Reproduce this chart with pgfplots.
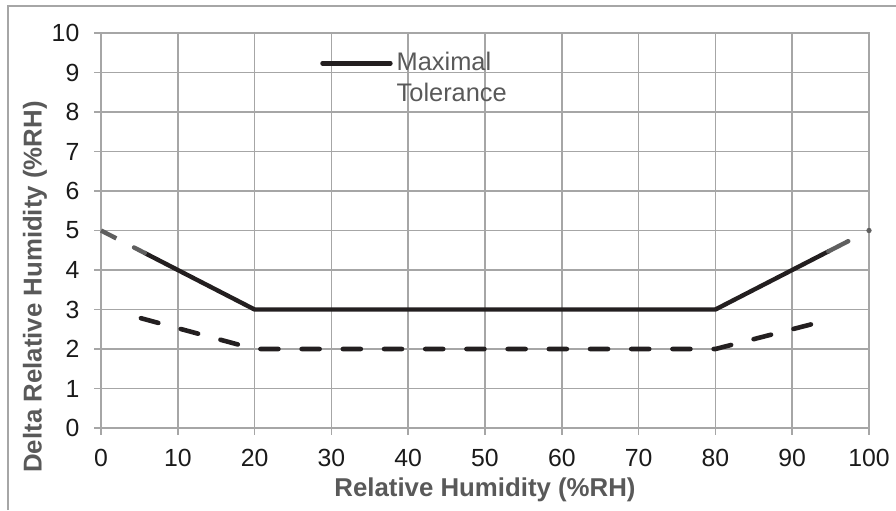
\documentclass[border=0pt]{standalone}
\usepackage{fontspec}
\setmainfont{Liberation Sans}
\usepackage{pgfplots}
\pgfplotsset{compat=1.18}
\definecolor{gridgrey}{HTML}{A6A6A6}
\definecolor{labgrey}{HTML}{595959}
\definecolor{fadegrey}{HTML}{5F5F5F}
\definecolor{linek}{HTML}{231F20}
\definecolor{tickk}{HTML}{1A1A1A}
\begin{document}
\begin{tikzpicture}[x=1pt,y=1pt]
\useasboundingbox (0,0) rectangle (448,255);
% outer chart frame (left and top only)
\draw[gridgrey, line width=0.8pt] (4,0) -- (4,252) -- (448,252);
\begin{axis}[
  at={(50.5pt,41pt)}, anchor=south west,
  scale only axis, width=384pt, height=197.5pt,
  xmin=0, xmax=100, ymin=0, ymax=10,
  xtick={0,10,...,100}, ytick={0,1,...,10},
  grid=major,
  major grid style={gridgrey, line width=0.75pt},
  axis line style={gridgrey, line width=0.75pt},
  tick style={gridgrey, line width=0.75pt},
  tick align=outside, major tick length=3.3pt,
  xtick pos=bottom, ytick pos=left,
  /pgf/number format/assume math mode=true,
  ticklabel style={font=\fontsize{12.4}{14}\selectfont, text=tickk},
  yticklabel style={xshift=-4pt},
  xticklabel style={yshift=-4pt},
  xlabel={Relative Humidity (\%RH)},
  ylabel={Delta Relative Humidity (\%RH)},
  every axis x label/.style={at={(axis description cs:0.5,-0.157)}, anchor=center,
    font=\bfseries\fontsize{12.9}{15}\selectfont, text=labgrey},
  every axis y label/.style={at={(axis description cs:-0.0859,0.357)}, anchor=center, rotate=90,
    font=\bfseries\fontsize{12.9}{15}\selectfont, text=labgrey},
  clip=false,
  legend style={at={(axis cs:28.5,9.52)}, anchor=north west, draw=none, fill=none,
    inner sep=0pt, column sep=2pt, legend cell align=left,
    nodes={inner sep=0pt, align=left, text=labgrey, font=\fontsize{12.7}{15.5}\selectfont}},
  legend image code/.code={\draw[linek, line width=2.2pt, line cap=round] (0pt,7.6pt) -- (34pt,7.6pt);},
]
% maximal tolerance (solid)
\addplot[linek, line width=2.2pt, line join=round] coordinates {
  (5.6,4.44) (20,3) (80,3) (94.8,4.48)};
\addlegendentry{Maximal\\Tolerance}
\addplot[forget plot, fadegrey, line width=2.2pt] coordinates {(0,5) (2,4.8)};
\addplot[forget plot, fadegrey, line width=2.2pt, line cap=round] coordinates {(4.3,4.57) (5.7,4.43)};
\addplot[forget plot, fadegrey, line width=2.2pt, line cap=round] coordinates {(94.7,4.47) (97.3,4.73)};
\addplot[forget plot, only marks, mark=*, mark size=1.1pt, fadegrey] coordinates {(100,5)};
% typical tolerance (dashed)
\addplot[forget plot, linek, line width=2.3pt, line cap=round,
  dash pattern=on 9pt off 11.6pt] coordinates {
  (5.2,2.78) (20,2) (80,2) (93,2.65)};
\end{axis}
\end{tikzpicture}
\end{document}
